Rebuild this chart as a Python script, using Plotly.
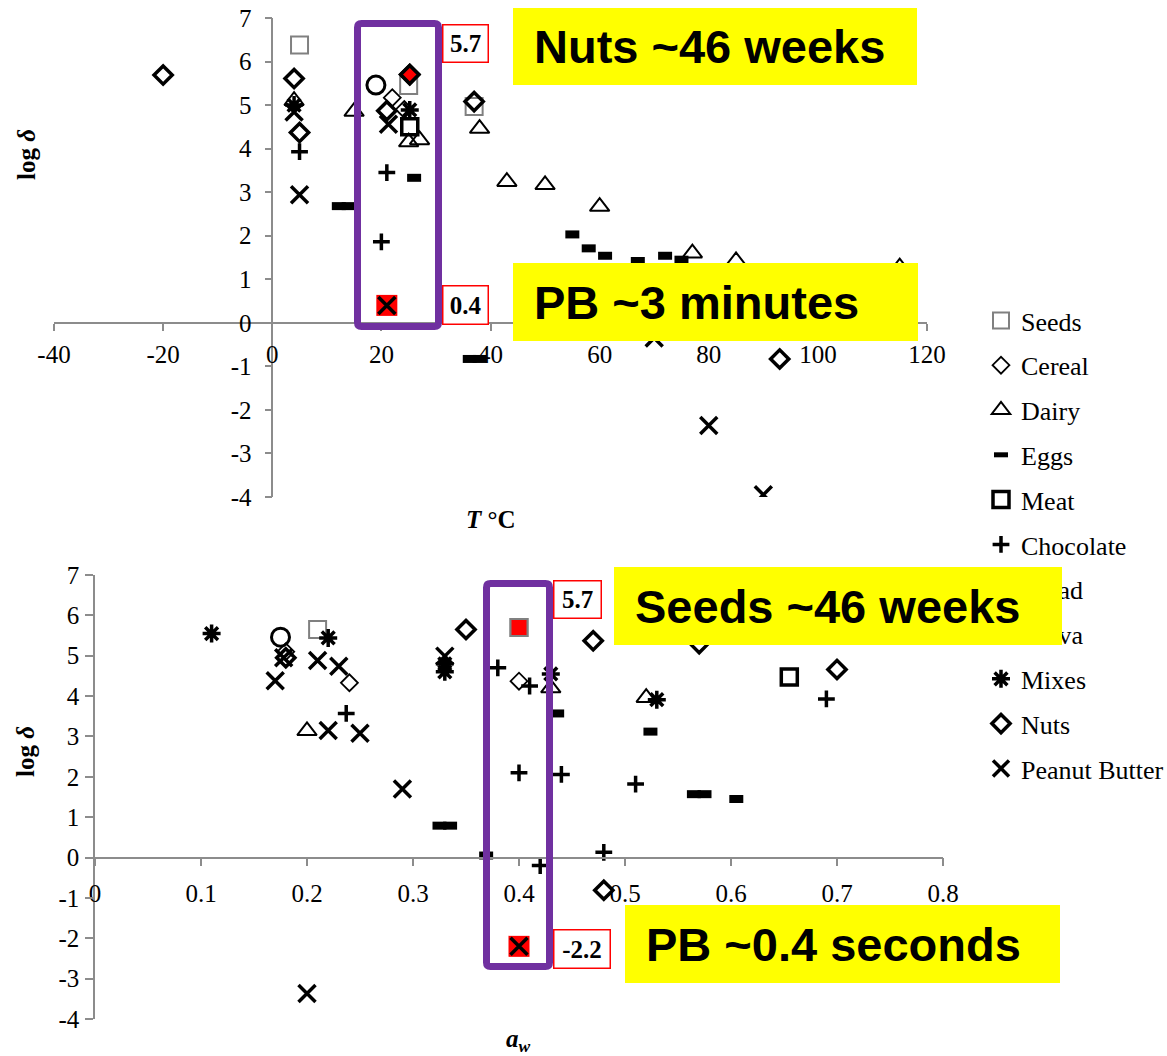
import plotly.graph_objects as go

W, H = 1167, 1056

# ---------------- data: log delta vs temperature (°C) ----------------
seeds_t = [5, 25, 37]
seeds_t_logd = [6.38, 5.45, 4.97]
cereal_t = [22, 24.2]
cereal_t_logd = [5.17, 4.9]
dairy_t = [4, 15, 25, 27, 38, 43, 50, 60, 77, 85, 115]
dairy_t_logd = [5.1, 4.85, 4.15, 4.2, 4.46, 3.24, 3.17, 2.67, 1.6, 1.42, 1.28]
eggs_t = [12.2, 14, 26, 36.2, 38, 55, 58, 61, 67, 72, 75]
eggs_t_logd = [2.68, 2.68, 3.33, -0.83, -0.83, 2.03, 1.71, 1.54, 1.42, 1.54, 1.45]
meat_t = [25.2]
meat_t_logd = [4.5]
choc_t = [5, 21, 20]
choc_t_logd = [3.93, 3.45, 1.86]
bread_t = []
bread_t_logd = []
halva_t = [19]
halva_t_logd = [5.46]
mixes_t = [4, 25.2]
mixes_t_logd = [5.0, 4.89]
nuts_t = [-20, 4, 5, 21, 25.2, 37, 93]
nuts_t_logd = [5.69, 5.61, 4.37, 4.87, 5.7, 5.08, -0.83]
pb_t = [4, 5, 21.3, 21, 70, 80, 90]
pb_t_logd = [4.84, 2.94, 4.56, 0.4, -0.35, -2.36, -3.95]
nuts_t_hi = 4   # longest-lived nuts point
pb_t_hi = 3     # shortest-lived peanut butter point (room temperature)

# ---------------- data: log delta vs water activity ----------------
seeds_aw = [0.21, 0.40]
seeds_aw_logd = [5.65, 5.7]
cereal_aw = [0.18, 0.24, 0.40]
cereal_aw_logd = [5.1, 4.33, 4.37]
dairy_aw = [0.20, 0.43, 0.52]
dairy_aw_logd = [3.14, 4.2, 3.96]
eggs_aw = [0.325, 0.335, 0.369, 0.436, 0.524, 0.565, 0.575, 0.605]
eggs_aw_logd = [0.79, 0.79, 0.05, 3.57, 3.12, 1.57, 1.57, 1.45]
meat_aw = [0.655]
meat_aw_logd = [4.47]
choc_aw = [0.237, 0.38, 0.41, 0.40, 0.44, 0.42, 0.48, 0.51, 0.69]
choc_aw_logd = [3.57, 4.70, 4.25, 2.10, 2.06, -0.20, 0.13, 1.82, 3.93]
bread_aw = []
bread_aw_logd = []
halva_aw = [0.175]
halva_aw_logd = [5.46]
mixes_aw = [0.11, 0.22, 0.33, 0.33, 0.43, 0.53]
mixes_aw_logd = [5.55, 5.44, 4.8, 4.6, 4.55, 3.91]
nuts_aw = [0.18, 0.35, 0.47, 0.57, 0.70, 0.48]
nuts_aw_logd = [4.95, 5.65, 5.37, 5.3, 4.66, -0.81]
pb_aw = [0.178, 0.21, 0.23, 0.17, 0.22, 0.25, 0.29, 0.33, 0.20, 0.40]
pb_aw_logd = [4.95, 4.88, 4.74, 4.38, 3.15, 3.08, 1.70, 4.99, -3.37, -2.2]
seeds_aw_hi = 1
pb_aw_hi = 9

# ---------------- axes ticks ----------------
t_ticks = [-40, -20, 0, 20, 40, 60, 80, 100, 120]
t_ticktext = ["-40", "-20", "0", "20", "40", "60", "80", "100", "120"]
aw_ticks = [0, 0.1, 0.2, 0.3, 0.4, 0.5, 0.6, 0.7, 0.8]
aw_ticktext = ["0", "0.1", "0.2", "0.3", "0.4", "0.5", "0.6", "0.7", "0.8"]
logd_ticks = [7, 6, 5, 4, 3, 2, 1, 0, -1, -2, -3, -4]
logd_ticktext = ["7", "6", "5", "4", "3", "2", "1", "0", "-1", "-2", "-3", "-4"]

callouts = ["Nuts ~46 weeks", "PB ~3 minutes", "Seeds ~46 weeks", "PB ~0.4 seconds"]


def fx(px):
    return px / W


def fy(py):
    return 1 - py / H


SERIF = "Liberation Serif"
BLACK = "#000000"
GRAY = "#808080"
AXIS_GRAY = "#8c8c8c"
PURPLE = "#7030A0"
YELLOW = "#FFFF00"

styles = {
    "Seeds": dict(symbol="square-open", size=17, color=GRAY, line=dict(width=2, color=GRAY)),
    "Cereal": dict(symbol="diamond-open", size=13, color=BLACK, line=dict(width=1.8, color=BLACK)),
    "Dairy": dict(symbol="triangle-up-open", size=17, color=BLACK, line=dict(width=2, color=BLACK)),
    "Eggs": dict(symbol="line-ew-open", size=10, color=BLACK, line=dict(width=8, color=BLACK)),
    "Meat": dict(symbol="square-open", size=16, color=BLACK, line=dict(width=3.5, color=BLACK)),
    "Chocolate": dict(symbol="cross-thin-open", size=12, color=BLACK, line=dict(width=3.5, color=BLACK)),
    "Bread": dict(symbol="circle", size=10, color=BLACK, line=dict(width=0, color=BLACK)),
    "Halva": dict(symbol="circle-open", size=18, color=BLACK, line=dict(width=3, color=BLACK)),
    "Mixes": dict(symbol="asterisk-open", size=15, color=BLACK, line=dict(width=3.5, color=BLACK)),
    "Nuts": dict(symbol="diamond-open", size=14, color=BLACK, line=dict(width=3.5, color=BLACK)),
    "Peanut Butter": dict(symbol="x-thin-open", size=17, color=BLACK, line=dict(width=3.5, color=BLACK)),
}

series = [
    ("Seeds", seeds_t, seeds_t_logd, seeds_aw, seeds_aw_logd),
    ("Cereal", cereal_t, cereal_t_logd, cereal_aw, cereal_aw_logd),
    ("Dairy", dairy_t, dairy_t_logd, dairy_aw, dairy_aw_logd),
    ("Eggs", eggs_t, eggs_t_logd, eggs_aw, eggs_aw_logd),
    ("Meat", meat_t, meat_t_logd, meat_aw, meat_aw_logd),
    ("Chocolate", choc_t, choc_t_logd, choc_aw, choc_aw_logd),
    ("Bread", bread_t, bread_t_logd, bread_aw, bread_aw_logd),
    ("Halva", halva_t, halva_t_logd, halva_aw, halva_aw_logd),
    ("Mixes", mixes_t, mixes_t_logd, mixes_aw, mixes_aw_logd),
    ("Nuts", nuts_t, nuts_t_logd, nuts_aw, nuts_aw_logd),
    ("Peanut Butter", pb_t, pb_t_logd, pb_aw, pb_aw_logd),
]

fig = go.Figure()


def add_highlight(name, x, y, xa, ya, marker):
    fig.add_trace(go.Scatter(x=[x], y=[y], mode="markers", xaxis=xa, yaxis=ya,
                             legendgroup=name, showlegend=False, hoverinfo="skip",
                             marker=marker))


for name, xt, yt, xw, yw in series:
    if name == "Peanut Butter":
        # red backdrop under the extreme peanut-butter points
        add_highlight(name, pb_t[pb_t_hi], pb_t_logd[pb_t_hi], "x", "y",
                      dict(symbol="square", size=21, color="#FF0000", line=dict(width=0)))
        add_highlight(name, pb_aw[pb_aw_hi], pb_aw_logd[pb_aw_hi], "x2", "y2",
                      dict(symbol="square", size=21, color="#FF0000", line=dict(width=0)))
    # a series without measurements still keeps its legend entry (null point)
    fig.add_trace(go.Scatter(x=xt or [None], y=yt or [None], mode="markers", name=name,
                             legendgroup=name, xaxis="x", yaxis="y", marker=styles[name],
                             showlegend=True))
    fig.add_trace(go.Scatter(x=xw or [None], y=yw or [None], mode="markers", name=name,
                             legendgroup=name, xaxis="x2", yaxis="y2", marker=styles[name],
                             showlegend=False))
    if name == "Seeds":
        add_highlight(name, seeds_aw[seeds_aw_hi], seeds_aw_logd[seeds_aw_hi], "x2", "y2",
                      dict(symbol="square", size=17, color="#FF0000", line=dict(width=2, color=GRAY)))
    if name == "Nuts":
        add_highlight(name, nuts_t[nuts_t_hi], nuts_t_logd[nuts_t_hi], "x", "y",
                      dict(symbol="diamond", size=14, color="#FF0000", line=dict(width=3.5, color=BLACK)))

# plot areas (pixel geometry)
top_xd = [fx(54), fx(927)]
top_yd = [fy(497), fy(18)]
bot_xd = [fx(95), fx(943)]
bot_yd = [fy(1019), fy(575)]
t_range = [-40, 120]
aw_range = [0, 0.8]
ld_range = [-4, 7]


def zero_pos(dom, rng):
    return dom[0] + (0 - rng[0]) / (rng[1] - rng[0]) * (dom[1] - dom[0])


axis_common = dict(showgrid=False, zeroline=False, showline=True, linecolor=AXIS_GRAY,
                   linewidth=1.5, ticks="outside", tickcolor=AXIS_GRAY, tickwidth=1.5,
                   tickfont=dict(family=SERIF, size=25, color=BLACK), tickmode="array",
                   automargin=False)

fig.update_layout(
    width=W, height=H, margin=dict(l=0, r=0, t=0, b=0, autoexpand=False),
    paper_bgcolor="white", plot_bgcolor="white",
    xaxis=dict(axis_common, domain=top_xd, range=t_range, tickvals=t_ticks, ticktext=t_ticktext,
               anchor="free", position=zero_pos(top_yd, ld_range), ticklen=7, ticklabelstandoff=2),
    yaxis=dict(axis_common, domain=top_yd, range=ld_range, tickvals=logd_ticks, ticktext=logd_ticktext,
               anchor="free", position=zero_pos(top_xd, t_range), ticklen=7, ticklabelstandoff=8),
    xaxis2=dict(axis_common, domain=bot_xd, range=aw_range, tickvals=aw_ticks, ticktext=aw_ticktext,
                anchor="free", position=zero_pos(bot_yd, ld_range), ticklen=8, ticklabelstandoff=6),
    yaxis2=dict(axis_common, domain=bot_yd, range=ld_range, tickvals=logd_ticks, ticktext=logd_ticktext,
                anchor="x2", ticklen=8, ticklabelstandoff=1),
    showlegend=True,
    legend=dict(x=fx(981), y=fy(297), xanchor="left", yanchor="top",
                font=dict(family=SERIF, size=26, color=BLACK), tracegroupgap=8,
                bgcolor="rgba(0,0,0,0)", itemwidth=30, traceorder="grouped"),
)

annotations = []

# axis titles
annotations += [
    dict(text="<b>log <i>δ</i></b>", x=fx(27), y=fy(155), textangle=-90),
    dict(text="<b>log <i>δ</i></b>", x=fx(25), y=fy(752), textangle=-90),
    dict(text="<b><i>T</i> °C</b>", x=fx(491), y=fy(519)),
    dict(text="<b><i>a<sub>w</sub></i></b>", x=fx(518), y=fy(1040)),
]
for a in annotations:
    a.update(xref="paper", yref="paper", showarrow=False, xanchor="center", yanchor="middle",
             font=dict(family=SERIF, size=25, color=BLACK))

# yellow call-out boxes: (left, top, right, bottom) in px
boxes = [(513, 8, 917, 85), (513, 263, 918, 341), (614, 567, 1062, 645), (625, 905, 1060, 983)]
TEXT_INSET = 21
shapes = []
for (l, t, r, b) in boxes:
    shapes.append(dict(type="rect", xref="paper", yref="paper", x0=fx(l), x1=fx(r), y0=fy(b), y1=fy(t),
                       fillcolor=YELLOW, line=dict(width=0), layer="above"))
for (l, t, r, b), txt in zip(boxes, callouts):
    # the text box itself is also yellow so it hides whatever lies beneath (legend included)
    annotations.append(dict(text=txt, xref="paper", yref="paper", x=fx(l + TEXT_INSET), y=fy(t),
                            xanchor="left", yanchor="top", align="left", valign="middle",
                            width=r - l - TEXT_INSET, height=b - t, bgcolor=YELLOW,
                            borderpad=0, borderwidth=0, showarrow=False,
                            font=dict(family="Liberation Sans", size=47, color=BLACK, weight="bold")))

# red-bordered value labels next to the highlighted points
labels = [
    (nuts_t_logd[nuts_t_hi], (442, 24, 489, 63)),
    (pb_t_logd[pb_t_hi], (442, 285, 489, 325)),
    (seeds_aw_logd[seeds_aw_hi], (553, 580, 602, 619)),
    (pb_aw_logd[pb_aw_hi], (553, 929, 611, 969)),
]
for val, (l, t, r, b) in labels:
    bw = 1.5
    annotations.append(dict(text=f"<b>{val:.1f}</b>", xref="paper", yref="paper", x=fx(l), y=fy(t),
                            xanchor="left", yanchor="top", width=r - l - 2 * bw, height=b - t - 2 * bw,
                            bgcolor="white", bordercolor="#FF0000", borderwidth=bw, borderpad=0,
                            showarrow=False, font=dict(family=SERIF, size=25, color=BLACK)))

fig.update_layout(annotations=annotations)


def rounded_rect(x0, y0, x1, y1, r):
    pts = [
        ("M", x0 + r, y0), ("L", x1 - r, y0), ("Q", x1, y0, x1, y0 + r),
        ("L", x1, y1 - r), ("Q", x1, y1, x1 - r, y1), ("L", x0 + r, y1),
        ("Q", x0, y1, x0, y1 - r), ("L", x0, y0 + r), ("Q", x0, y0, x0 + r, y0),
    ]
    parts = []
    for p in pts:
        cmd, coords = p[0], p[1:]
        xy = []
        for i in range(0, len(coords), 2):
            xy.append(f"{fx(coords[i]):.5f},{fy(coords[i + 1]):.5f}")
        parts.append(cmd + " ".join(xy))
    return " ".join(parts) + " Z"


shapes += [
    dict(type="path", path=rounded_rect(357.5, 23.5, 438.5, 326.5, 4), xref="paper", yref="paper",
         line=dict(color=PURPLE, width=7), fillcolor="rgba(0,0,0,0)", layer="above"),
    dict(type="path", path=rounded_rect(486.5, 583.5, 549.5, 966.5, 4), xref="paper", yref="paper",
         line=dict(color=PURPLE, width=7), fillcolor="rgba(0,0,0,0)", layer="above"),
]
fig.update_layout(shapes=shapes)

fig.write_html("out.html")
